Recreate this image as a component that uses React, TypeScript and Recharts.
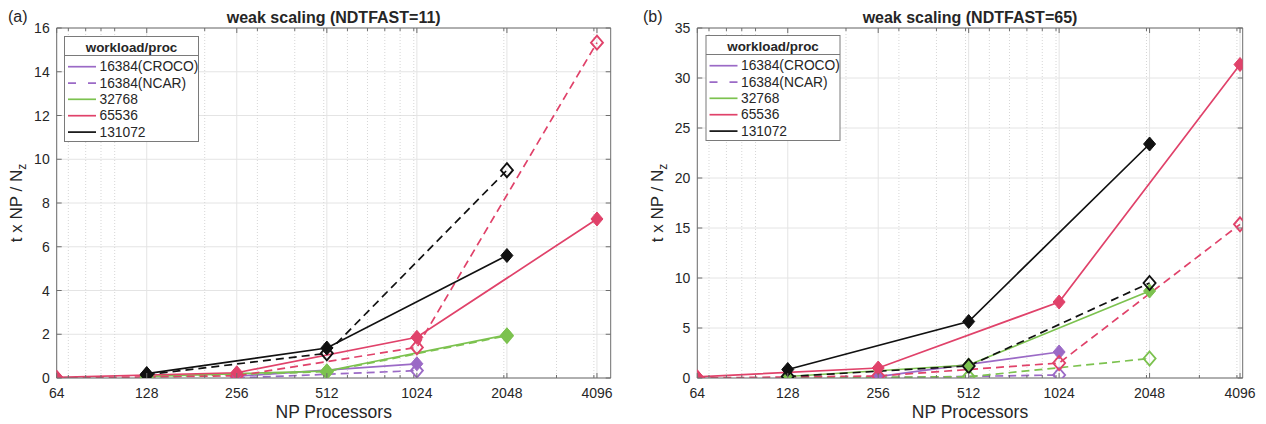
import React from 'react';
import { LineChart, Line, XAxis, YAxis, CartesianGrid } from 'recharts';

// ---------- data ----------
const NP = [64, 128, 256, 512, 1024, 2048, 4096];
const MINOR_NP = [70, 80, 90, 100, 200, 300, 400, 500, 600, 700, 800, 900, 1000, 2000, 3000, 4000];
const Y_TICKS_A = [0, 2, 4, 6, 8, 10, 12, 14, 16];
const Y_TICKS_B = [0, 5, 10, 15, 20, 25, 30, 35];

const TITLE_A = 'weak scaling (NDTFAST=11)';
const TITLE_B = 'weak scaling (NDTFAST=65)';
const X_LABEL = 'NP Processors';
const LEGEND_TITLE = 'workload/proc';
const LEGEND_LABELS = ['16384(CROCO)', '16384(NCAR)', '32768', '65536', '131072'];

// panel (a) NDTFAST=11  (values per NP; null = no run)
const A_CROCO_16384 = [null, null, 0.08, null, 0.65, null, null];
const A_NCAR_16384 = [null, null, 0.0, null, 0.34, null, null];
const A_CROCO_32768 = [null, 0.07, null, 0.32, null, 1.97, null];
const A_NCAR_32768 = [null, 0.04, null, 0.29, null, 1.93, null];
const A_CROCO_65536 = [0.03, null, 0.24, null, 1.86, null, 7.27];
const A_NCAR_65536 = [0.0, null, 0.1, null, 1.4, null, 15.33];
const A_CROCO_131072 = [null, 0.2, null, 1.37, null, 5.6, null];
const A_NCAR_131072 = [null, 0.15, null, 1.13, null, 9.5, null];

// panel (b) NDTFAST=65
const B_CROCO_16384 = [null, null, 0.13, null, 2.6, null, null];
const B_NCAR_16384 = [null, null, 0.02, null, 0.3, null, null];
const B_CROCO_32768 = [null, 0.15, null, 1.3, null, 8.7, null];
const B_NCAR_32768 = [null, 0.05, null, 0.12, null, 1.95, null];
const B_CROCO_65536 = [0.12, null, 1.0, null, 7.6, null, 31.35];
const B_NCAR_65536 = [0.0, null, 0.2, null, 1.5, null, 15.37];
const B_CROCO_131072 = [null, 0.85, null, 5.65, null, 23.4, null];
const B_NCAR_131072 = [null, 0.15, null, 1.2, null, 9.5, null];

// ---------- style ----------
const PURPLE = '#9b6ac6';
const GREEN = '#7cc24f';
const RED = '#e0426a';
const BLACK = '#111111';
const AXIS = '#6e6e6e';
const TEXT = '#262626';
const FONT = '"Liberation Sans", Arial, Helvetica, sans-serif';
const DASH = '8 5';

type Series = { key: string; color: string; dashed: boolean; values: (number | null)[] };

const seriesA: Series[] = [
  { key: 'croco16384', color: PURPLE, dashed: false, values: A_CROCO_16384 },
  { key: 'ncar16384', color: PURPLE, dashed: true, values: A_NCAR_16384 },
  { key: 'croco32768', color: GREEN, dashed: false, values: A_CROCO_32768 },
  { key: 'ncar32768', color: GREEN, dashed: true, values: A_NCAR_32768 },
  { key: 'croco65536', color: RED, dashed: false, values: A_CROCO_65536 },
  { key: 'ncar65536', color: RED, dashed: true, values: A_NCAR_65536 },
  { key: 'croco131072', color: BLACK, dashed: false, values: A_CROCO_131072 },
  { key: 'ncar131072', color: BLACK, dashed: true, values: A_NCAR_131072 },
];
const seriesB: Series[] = [
  { key: 'croco16384', color: PURPLE, dashed: false, values: B_CROCO_16384 },
  { key: 'ncar16384', color: PURPLE, dashed: true, values: B_NCAR_16384 },
  { key: 'croco32768', color: GREEN, dashed: false, values: B_CROCO_32768 },
  { key: 'ncar32768', color: GREEN, dashed: true, values: B_NCAR_32768 },
  { key: 'croco65536', color: RED, dashed: false, values: B_CROCO_65536 },
  { key: 'ncar65536', color: RED, dashed: true, values: B_NCAR_65536 },
  { key: 'croco131072', color: BLACK, dashed: false, values: B_CROCO_131072 },
  { key: 'ncar131072', color: BLACK, dashed: true, values: B_NCAR_131072 },
];

const LEGEND_STYLES = [
  { color: PURPLE, dashed: false },
  { color: PURPLE, dashed: true },
  { color: GREEN, dashed: false },
  { color: RED, dashed: false },
  { color: BLACK, dashed: false },
];

function buildRows(series: Series[]) {
  return NP.map((np, i) => {
    const row: any = { np };
    series.forEach((s) => {
      row[s.key] = s.values[i];
    });
    return row;
  });
}

const ALL_X = [...NP, ...MINOR_NP].sort((a, b) => a - b);

const XTick = (props: any) => {
  const { x, y, payload } = props;
  const v = payload.value;
  const major = NP.includes(v);
  return (
    <g>
      <line x1={x} x2={x} y1={y} y2={y - (major ? 5 : 3)} stroke={AXIS} strokeWidth={1} />
      {major ? (
        <text x={x} y={y + 20} textAnchor="middle" fontSize={14} fill={TEXT} fontFamily={FONT}>
          {v}
        </text>
      ) : null}
    </g>
  );
};
const TopTick = (props: any) => {
  const { x, y, payload } = props;
  const major = NP.includes(payload.value);
  return <line x1={x} x2={x} y1={y} y2={y + (major ? 5 : 3)} stroke={AXIS} strokeWidth={1} />;
};
const YTick = (props: any) => {
  const { x, y, payload } = props;
  return (
    <g>
      <line x1={x} x2={x + 5} y1={y} y2={y} stroke={AXIS} strokeWidth={1} />
      <text x={x - 7} y={y} dy="0.36em" textAnchor="end" fontSize={14} fill={TEXT} fontFamily={FONT}>
        {payload.value}
      </text>
    </g>
  );
};
const RightTick = (props: any) => {
  const { x, y } = props;
  return <line x1={x} x2={x - 5} y1={y} y2={y} stroke={AXIS} strokeWidth={1} />;
};

const makeDot = (color: string, open: boolean) => (props: any) => {
  const { cx, cy, value, index } = props;
  if (value == null || cx == null || cy == null || Number.isNaN(cy)) return <g key={`e${index}`} />;
  const w = 6;
  const h = 7;
  const d = `M${cx},${cy - h} L${cx + w},${cy} L${cx},${cy + h} L${cx - w},${cy} Z`;
  return (
    <path
      key={`d${index}`}
      d={d}
      fill={open ? 'none' : color}
      stroke={color}
      strokeWidth={open ? 1.9 : 1}
      strokeDasharray="none"
    />
  );
};

type PanelProps = {
  left: number;
  plotLeft: number;
  plotRight: number;
  xMax: number;
  yMax: number;
  yTicks: number[];
  series: Series[];
};

const W = 633;
const PLOT_TOP = 28;
const PLOT_BOTTOM = 378;
const XAXIS_H = 30;
const YAXIS_W = 40;

function Panel({ left, plotLeft, plotRight, xMax, yMax, yTicks, series }: PanelProps) {
  const data = buildRows(series);
  return (
    <div style={{ position: 'absolute', left, top: 0, width: W, height: 424 }}>
      <LineChart
        width={W}
        height={424}
        data={data}
        margin={{
          top: PLOT_TOP - 1,
          bottom: 424 - PLOT_BOTTOM - XAXIS_H,
          left: plotLeft - left - YAXIS_W,
          right: left + W - plotRight - 1,
        }}
      >
        <CartesianGrid stroke="#e4e4e4" strokeWidth={1} verticalValues={NP} horizontalValues={yTicks} />
        <CartesianGrid
          stroke="#d6d6d6"
          strokeWidth={1}
          strokeDasharray="1 2"
          horizontal={false}
          verticalValues={MINOR_NP}
        />
        <XAxis
          dataKey="np"
          type="number"
          scale="log"
          domain={[64, xMax]}
          allowDataOverflow
          ticks={ALL_X}
          interval={0}
          height={XAXIS_H}
          tickSize={0}
          tickMargin={0}
          tickLine={false}
          tick={XTick}
          axisLine={{ stroke: AXIS }}
        />
        <XAxis
          xAxisId="top"
          orientation="top"
          dataKey="np"
          type="number"
          scale="log"
          domain={[64, xMax]}
          allowDataOverflow
          ticks={ALL_X}
          interval={0}
          height={1}
          tickSize={0}
          tickMargin={0}
          tickLine={false}
          tick={TopTick}
          axisLine={{ stroke: AXIS }}
        />
        <YAxis
          type="number"
          domain={[0, yMax]}
          allowDataOverflow
          ticks={yTicks}
          interval={0}
          width={YAXIS_W}
          tickSize={0}
          tickMargin={0}
          tickLine={false}
          tick={YTick}
          axisLine={{ stroke: AXIS }}
        />
        <YAxis
          yAxisId="right"
          orientation="right"
          type="number"
          domain={[0, yMax]}
          allowDataOverflow
          ticks={yTicks}
          interval={0}
          width={1}
          tickSize={0}
          tickMargin={0}
          tickLine={false}
          tick={RightTick}
          axisLine={{ stroke: AXIS }}
        />
        {series.map((s) => (
          <Line
            key={s.key}
            dataKey={s.key}
            type="linear"
            stroke={s.color}
            strokeWidth={1.7}
            strokeDasharray={s.dashed ? DASH : undefined}
            connectNulls
            dot={makeDot(s.color, s.dashed)}
            activeDot={false}
            isAnimationActive={false}
          />
        ))}
      </LineChart>
    </div>
  );
}

function LegendBox({ x, y }: { x: number; y: number }) {
  const rowY = [30.7, 47.1, 63.3, 79.7, 96.1];
  return (
    <g transform={`translate(${x},${y})`}>
      <rect x={0.5} y={0.5} width={134} height={105} fill="white" stroke="#7a7a7a" strokeWidth={1} />
      <text x={67.5} y={15.5} textAnchor="middle" fontSize={13.4} fontWeight="bold" fill={TEXT} fontFamily={FONT}>
        {LEGEND_TITLE}
      </text>
      <line x1={0.5} x2={134.5} y1={19.5} y2={19.5} stroke="#7a7a7a" strokeWidth={1} />
      {LEGEND_LABELS.map((lab, i) => (
        <g key={lab}>
          <line
            x1={4}
            x2={32}
            y1={rowY[i]}
            y2={rowY[i]}
            stroke={LEGEND_STYLES[i].color}
            strokeWidth={1.7}
            strokeDasharray={LEGEND_STYLES[i].dashed ? '8 12' : undefined}
          />
          <text x={35.5} y={rowY[i] + 4.7} fontSize={13.8} fill={TEXT} fontFamily={FONT}>
            {lab}
          </text>
        </g>
      ))}
    </g>
  );
}

function Overlay() {
  const yLab = (x: number) => (
    <text
      transform={`translate(${x},203) rotate(-90)`}
      textAnchor="middle"
      fontSize={17}
      fill={TEXT}
      fontFamily={FONT}
    >
      t x NP / N
      <tspan dy={4} fontSize={12}>
        z
      </tspan>
    </text>
  );
  return (
    <svg
      width={1266}
      height={424}
      style={{ position: 'absolute', left: 0, top: 0, pointerEvents: 'none' }}
    >
      <text x={8} y={22} fontSize={16} fill={TEXT} fontFamily={FONT}>(a)</text>
      <text x={643} y={22} fontSize={16} fill={TEXT} fontFamily={FONT}>(b)</text>
      <text x={333.7} y={22.5} textAnchor="middle" fontSize={16} fontWeight="bold" fill={TEXT} fontFamily={FONT}>
        {TITLE_A}
      </text>
      <text x={970} y={22.5} textAnchor="middle" fontSize={16} fontWeight="bold" fill={TEXT} fontFamily={FONT}>
        {TITLE_B}
      </text>
      <text x={333.7} y={418} textAnchor="middle" fontSize={17.5} fill={TEXT} fontFamily={FONT}>
        {X_LABEL}
      </text>
      <text x={970} y={418} textAnchor="middle" fontSize={17.5} fill={TEXT} fontFamily={FONT}>
        {X_LABEL}
      </text>
      {yLab(22)}
      {yLab(662.5)}
      <LegendBox x={64} y={36} />
      <LegendBox x={705.5} y={35} />
    </svg>
  );
}

export default function App() {
  return (
    <div
      style={{
        position: 'absolute',
        left: 0,
        top: 0,
        width: 1266,
        height: 424,
        background: 'white',
        overflow: 'hidden',
      }}
    >
      <Panel
        left={0}
        plotLeft={56.7}
        plotRight={610.7}
        xMax={4553}
        yMax={16}
        yTicks={Y_TICKS_A}
        series={seriesA}
      />
      <Panel
        left={633}
        plotLeft={697.3}
        plotRight={1242.7}
        xMax={4181}
        yMax={35}
        yTicks={Y_TICKS_B}
        series={seriesB}
      />
      <Overlay />
    </div>
  );
}
